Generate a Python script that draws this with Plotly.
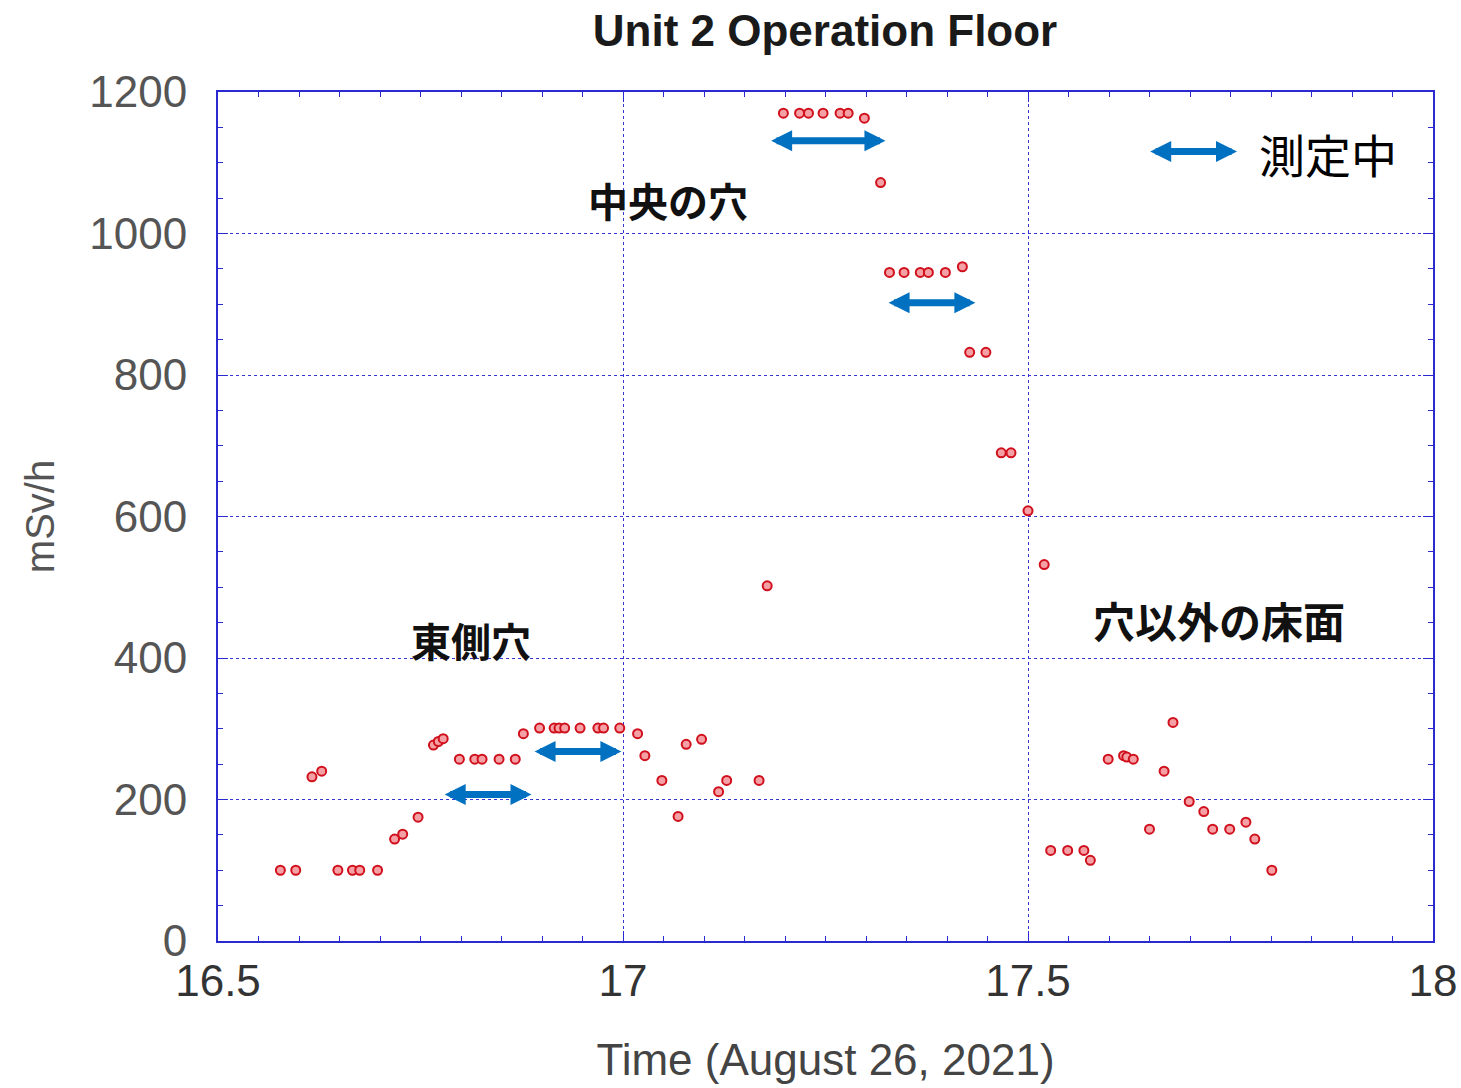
import plotly.graph_objects as go

# ---- data (time in hours, dose rate mSv/h) ----
east_x = [16.577, 16.596, 16.616, 16.628, 16.648, 16.666, 16.675, 16.697, 16.718, 16.728,
          16.747, 16.766, 16.772, 16.778, 16.798, 16.817, 16.826, 16.847, 16.867, 16.877,
          16.897, 16.915, 16.921, 16.928, 16.947, 16.969, 16.976, 16.996, 17.018, 17.027,
          17.048, 17.068, 17.078, 17.097, 17.118, 17.128, 17.168]
east_y = [100, 100, 232, 240, 100, 100, 100, 100, 144, 151,
          175, 277, 282, 286, 257, 257, 257, 257, 257, 293,
          301, 301, 301, 301, 301, 301, 301, 301, 293, 262,
          227, 176, 278, 285, 211, 227, 227]

center_x = [17.178, 17.198, 17.218, 17.229, 17.247, 17.268, 17.278, 17.298, 17.318,
            17.329, 17.347, 17.367, 17.377, 17.398, 17.419, 17.428, 17.448,
            17.467, 17.479, 17.500, 17.520]
center_y = [502, 1170, 1170, 1170, 1170, 1170, 1170, 1163, 1072,
            945, 945, 945, 945, 945, 953, 832, 832,
            690, 690, 608, 532]

floor_x = [17.528, 17.549, 17.569, 17.577, 17.599, 17.618, 17.622, 17.630, 17.650, 17.668,
           17.679, 17.699, 17.717, 17.728, 17.749, 17.769, 17.780, 17.801]
floor_y = [128, 128, 128, 114, 257, 262, 260, 257, 158, 240,
           309, 197, 183, 158, 158, 168, 144, 100]

# measuring-period arrows (start, end, level)
arrow_x0 = [16.778, 16.889, 17.181, 17.326, 17.649]
arrow_x1 = [16.887, 16.998, 17.324, 17.435, 17.758]
arrow_y = [207, 268, 1131, 902, 1116]

# text labels
label_text = ["東側穴", "中央の穴", "穴以外の床面"]
label_x = [16.812, 17.056, 17.736]
label_y = [426, 1048, 454]
label_size = [40, 40, 42]
legend_text = "測定中"
legend_x = 17.783
legend_y = 1114

x_ticks = [16.5, 17, 17.5, 18]
x_ticktext = ["16.5", "17", "17.5", "18"]
y_ticks = [0, 200, 400, 600, 800, 1000, 1200]

BLUE = "#2a2ad0"
GRID = "#3535d8"
ARROW = "#0070c0"

fig = go.Figure()
fig.add_trace(go.Scatter(
    x=east_x + center_x + floor_x,
    y=east_y + center_y + floor_y,
    mode="markers",
    marker=dict(symbol="circle", size=9, color="#f4a0a4",
                line=dict(color="#d0101c", width=2)),
    showlegend=False,
))

annotations = []
for x0, x1, y in zip(arrow_x0, arrow_x1, arrow_y):
    annotations.append(dict(
        x=x1, y=y, ax=x0, ay=y, xref="x", yref="y", axref="x", ayref="y",
        text="", showarrow=True, arrowside="end+start",
        arrowhead=2, startarrowhead=2, arrowsize=0.6, startarrowsize=0.6,
        arrowwidth=7, arrowcolor=ARROW, standoff=0, startstandoff=0,
    ))
for t, x, y, s in zip(label_text, label_x, label_y, label_size):
    annotations.append(dict(
        x=x, y=y, xref="x", yref="y", text="<b>" + t + "</b>", showarrow=False,
        font=dict(family="Noto Sans CJK JP", size=s, color="#111111"),
    ))
annotations.append(dict(
    x=legend_x, y=legend_y, xref="x", yref="y", text=legend_text, showarrow=False,
    xanchor="left", font=dict(family="Noto Sans CJK JP", size=46, color="#000000"),
))

fig.update_layout(
    width=1461, height=1088,
    margin=dict(l=218, r=28, t=92, b=145),
    paper_bgcolor="white", plot_bgcolor="white",
    title=dict(text="<b>Unit 2 Operation Floor</b>", x=0.5647, xanchor="center",
               y=0.9715, yanchor="middle",
               font=dict(family="Liberation Sans", size=44, color="#1a1a1a")),
    annotations=annotations,
)
fig.update_xaxes(
    range=[16.5, 18], tickvals=x_ticks, ticktext=x_ticktext, automargin="height",
    ticklabeloverflow="allow",
    showline=True, linecolor=BLUE, linewidth=2, mirror="ticks",
    ticks="inside", ticklen=10, tickcolor=BLUE, tickwidth=1,
    showgrid=True, gridcolor=GRID, griddash="dot", gridwidth=1,
    zeroline=False,
    minor=dict(dtick=0.05, ticks="inside", ticklen=5, tickcolor=BLUE, showgrid=False),
    tickfont=dict(family="Liberation Sans Narrow, Liberation Sans", size=44, color="#333333"),
    ticklabelstandoff=0,
    title=dict(text="Time (August 26, 2021)", standoff=40,
               font=dict(family="Liberation Sans Narrow, Liberation Sans", size=44, color="#444444")),
)
fig.update_yaxes(
    range=[0, 1200], tickvals=y_ticks, automargin=False,
    showline=True, linecolor=BLUE, linewidth=2, mirror="ticks",
    ticks="inside", ticklen=10, tickcolor=BLUE, tickwidth=1,
    showgrid=True, gridcolor=GRID, griddash="dot", gridwidth=1,
    zeroline=False,
    minor=dict(dtick=50, ticks="inside", ticklen=5, tickcolor=BLUE, showgrid=False),
    tickfont=dict(family="Liberation Sans", size=44, color="#555555"),
    ticklabelstandoff=20,
    title=dict(text="mSv/h", standoff=22,
               font=dict(family="Liberation Sans", size=40, color="#555555")),
)

fig.write_html("out.html", config={"displayModeBar": False},
               post_script="document.body.style.margin='0';")
